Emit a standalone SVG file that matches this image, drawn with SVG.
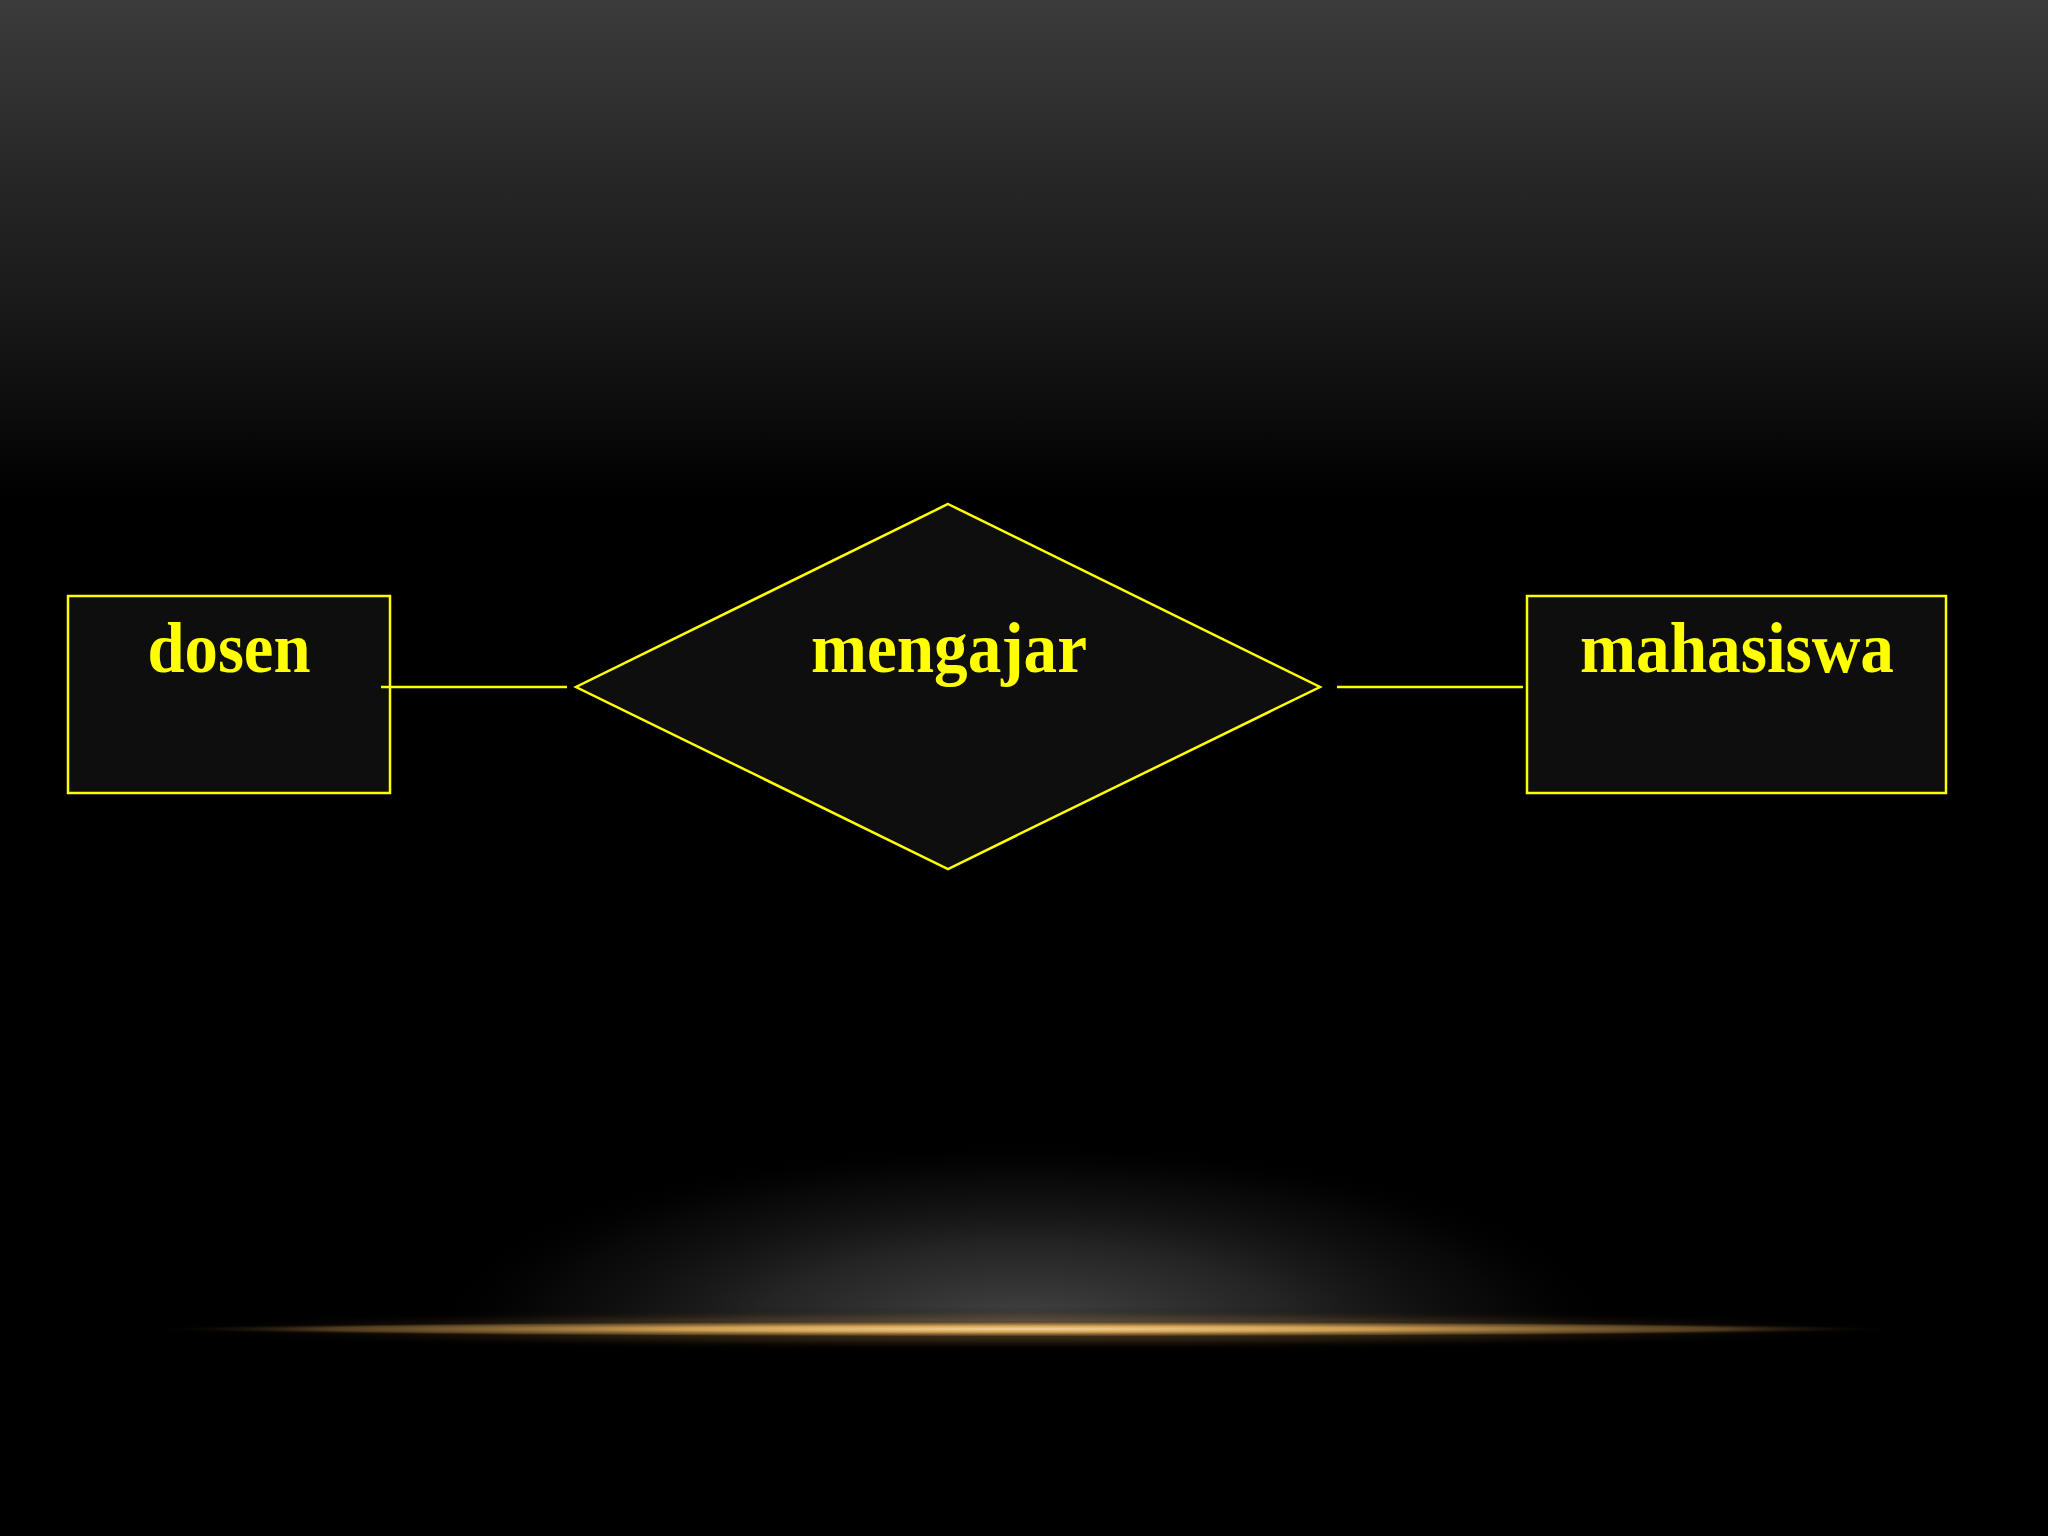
<svg xmlns="http://www.w3.org/2000/svg" width="2048" height="1536" viewBox="0 0 2048 1536">
<defs>
<style>
.node{fill:#0e0e0e;stroke:#ffff00;stroke-width:2.5}
.conn{stroke:#ffff00;stroke-width:2.5;fill:none}
.lbl{font-family:"Liberation Serif","Times New Roman",serif;font-weight:bold;font-size:72px;fill:#ffff00;text-anchor:middle}
</style>
<linearGradient id="top" x1="0" y1="0" x2="0" y2="1">
<stop offset="0" stop-color="#3b3b3b"/>
<stop offset="0.2" stop-color="#303030"/>
<stop offset="0.4" stop-color="#242424"/>
<stop offset="0.6" stop-color="#1a1a1a"/>
<stop offset="0.75" stop-color="#111"/>
<stop offset="0.88" stop-color="#080808"/>
<stop offset="1" stop-color="#000"/>
</linearGradient>
<radialGradient id="haze" cx="0.5" cy="0.5" r="0.5">
<stop offset="0" stop-color="#464646"/>
<stop offset="0.45" stop-color="#2a2a2a" stop-opacity="0.85"/>
<stop offset="0.8" stop-color="#111" stop-opacity="0.5"/>
<stop offset="1" stop-color="#000" stop-opacity="0"/>
</radialGradient>
<radialGradient id="gold" cx="0.5" cy="0.5" r="0.5">
<stop offset="0" stop-color="#f6d494"/>
<stop offset="0.4" stop-color="#d4a454" stop-opacity="0.95"/>
<stop offset="0.8" stop-color="#7a5a30" stop-opacity="0.6"/>
<stop offset="1" stop-color="#000" stop-opacity="0"/>
</radialGradient>
<radialGradient id="goldglow" cx="0.5" cy="0.5" r="0.5">
<stop offset="0" stop-color="#b08848" stop-opacity="0.6"/>
<stop offset="0.6" stop-color="#5a4020" stop-opacity="0.35"/>
<stop offset="1" stop-color="#000" stop-opacity="0"/>
</radialGradient>
<clipPath id="above"><rect x="0" y="1000" width="2048" height="328"/></clipPath>
</defs>
<rect width="2048" height="1536" fill="#000"/>
<rect width="2048" height="500" fill="url(#top)"/>
<g clip-path="url(#above)">
<ellipse cx="1024" cy="1328" rx="600" ry="190" fill="url(#haze)"/>
</g>
<ellipse cx="1024" cy="1329" rx="900" ry="22" fill="url(#goldglow)"/>
<ellipse cx="1024" cy="1329" rx="880" ry="8" fill="url(#gold)"/>
<g id="dosen">
<rect class="node" x="68" y="596" width="322" height="197"/>
<text class="lbl" x="229" y="672" textLength="163" lengthAdjust="spacingAndGlyphs">dosen</text>
</g>
<g id="mengajar">
<polygon class="node" points="948,504 1320,687 948,869 576,687"/>
<text class="lbl" x="949" y="672" textLength="276" lengthAdjust="spacingAndGlyphs">mengajar</text>
</g>
<g id="mahasiswa">
<rect class="node" x="1527" y="596" width="419" height="197"/>
<text class="lbl" x="1737" y="672" textLength="314" lengthAdjust="spacingAndGlyphs">mahasiswa</text>
</g>
<g id="connectors">
<line class="conn" x1="381" y1="687" x2="567" y2="687"/>
<line class="conn" x1="1337" y1="687" x2="1523" y2="687"/>
</g>
</svg>
